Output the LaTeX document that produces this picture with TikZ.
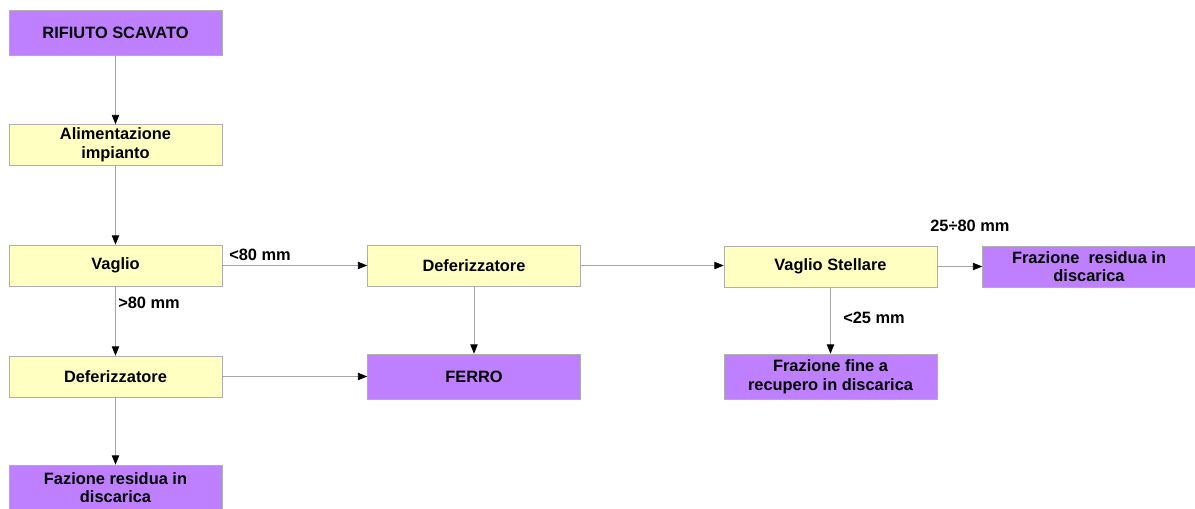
\documentclass[tikz,border=0pt]{standalone}
\usepackage{fontspec}
\setmainfont{Liberation Sans}
\usepackage{tikz}
\usetikzlibrary{positioning,arrows.meta}

\definecolor{boxyellow}{RGB}{255,255,194}
\definecolor{boxpurple}{RGB}{190,128,255}
\definecolor{boxline}{RGB}{175,175,175}

\begin{document}
\begin{tikzpicture}[x=0.75pt,y=0.75pt,
  font=\fontsize{12.3}{14}\selectfont\bfseries,
  stage/.style={draw=boxline, fill=boxyellow, minimum width=159.75pt, minimum height=30.75pt, align=center, inner sep=1pt},
  outlet/.style={draw=boxline, fill=boxpurple, minimum width=159.75pt, minimum height=33.75pt, align=center, inner sep=1pt},
  flow/.style={draw=gray!70, line width=0.6pt, -{Triangle[length=7pt,width=5.5pt,color=black]}},
  size/.style={anchor=west, inner sep=0pt}]
\useasboundingbox (0,0) rectangle (1195,-509);
%% Main line
\node[outlet] (rifiuto) at (115.5,-32.5) {RIFIUTO SCAVATO};
\node[stage] (alim) at (115.5,-145) {Alimentazione\\impianto};
\node[stage] (vaglio) at (115.5,-265.5) {Vaglio};
\node[stage] (deferA) at (115.5,-376.5) {Deferizzatore};
\node[outlet] (fazione) at (115.5,-487.5) {Fazione residua in\\discarica};
%% Undersize branch
\node[stage] (deferB) at (474,-265.5) {Deferizzatore};
\node[outlet] (ferro) at (474,-376.5) {FERRO};
\node[stage] (stellare) at (830.5,-266.5) {Vaglio Stellare};
\node[outlet, minimum height=30.75pt] (residua) at (1089,-266.5) {Frazione\ \ residua in\\discarica};
\node[outlet] (fine) at (830.5,-376.5) {Frazione fine a\\recupero in discarica};
%% Size labels
\node[size] (lt80) at (229,-255) {<80 mm};
\node[size] (gt80) at (118,-303) {>80 mm};
\node[size] (mid) at (930,-226) {25÷80 mm};
\node[size] (lt25) at (843,-318) {<25 mm};
%% Connectors
\draw[flow] (rifiuto) -- (alim);
\draw[flow] (alim) -- (vaglio);
\draw[flow] (vaglio) -- (deferA);
\draw[flow] (deferA) -- (fazione);
\draw[flow] (vaglio) -- (deferB);
\draw[flow] (deferA) -- (ferro);
\draw[flow] (deferB) -- (ferro);
\draw[flow] (deferB) -- (deferB -| stellare.west);
\draw[flow] (stellare) -- (residua);
\draw[flow] (stellare) -- (fine);
\end{tikzpicture}
\end{document}
